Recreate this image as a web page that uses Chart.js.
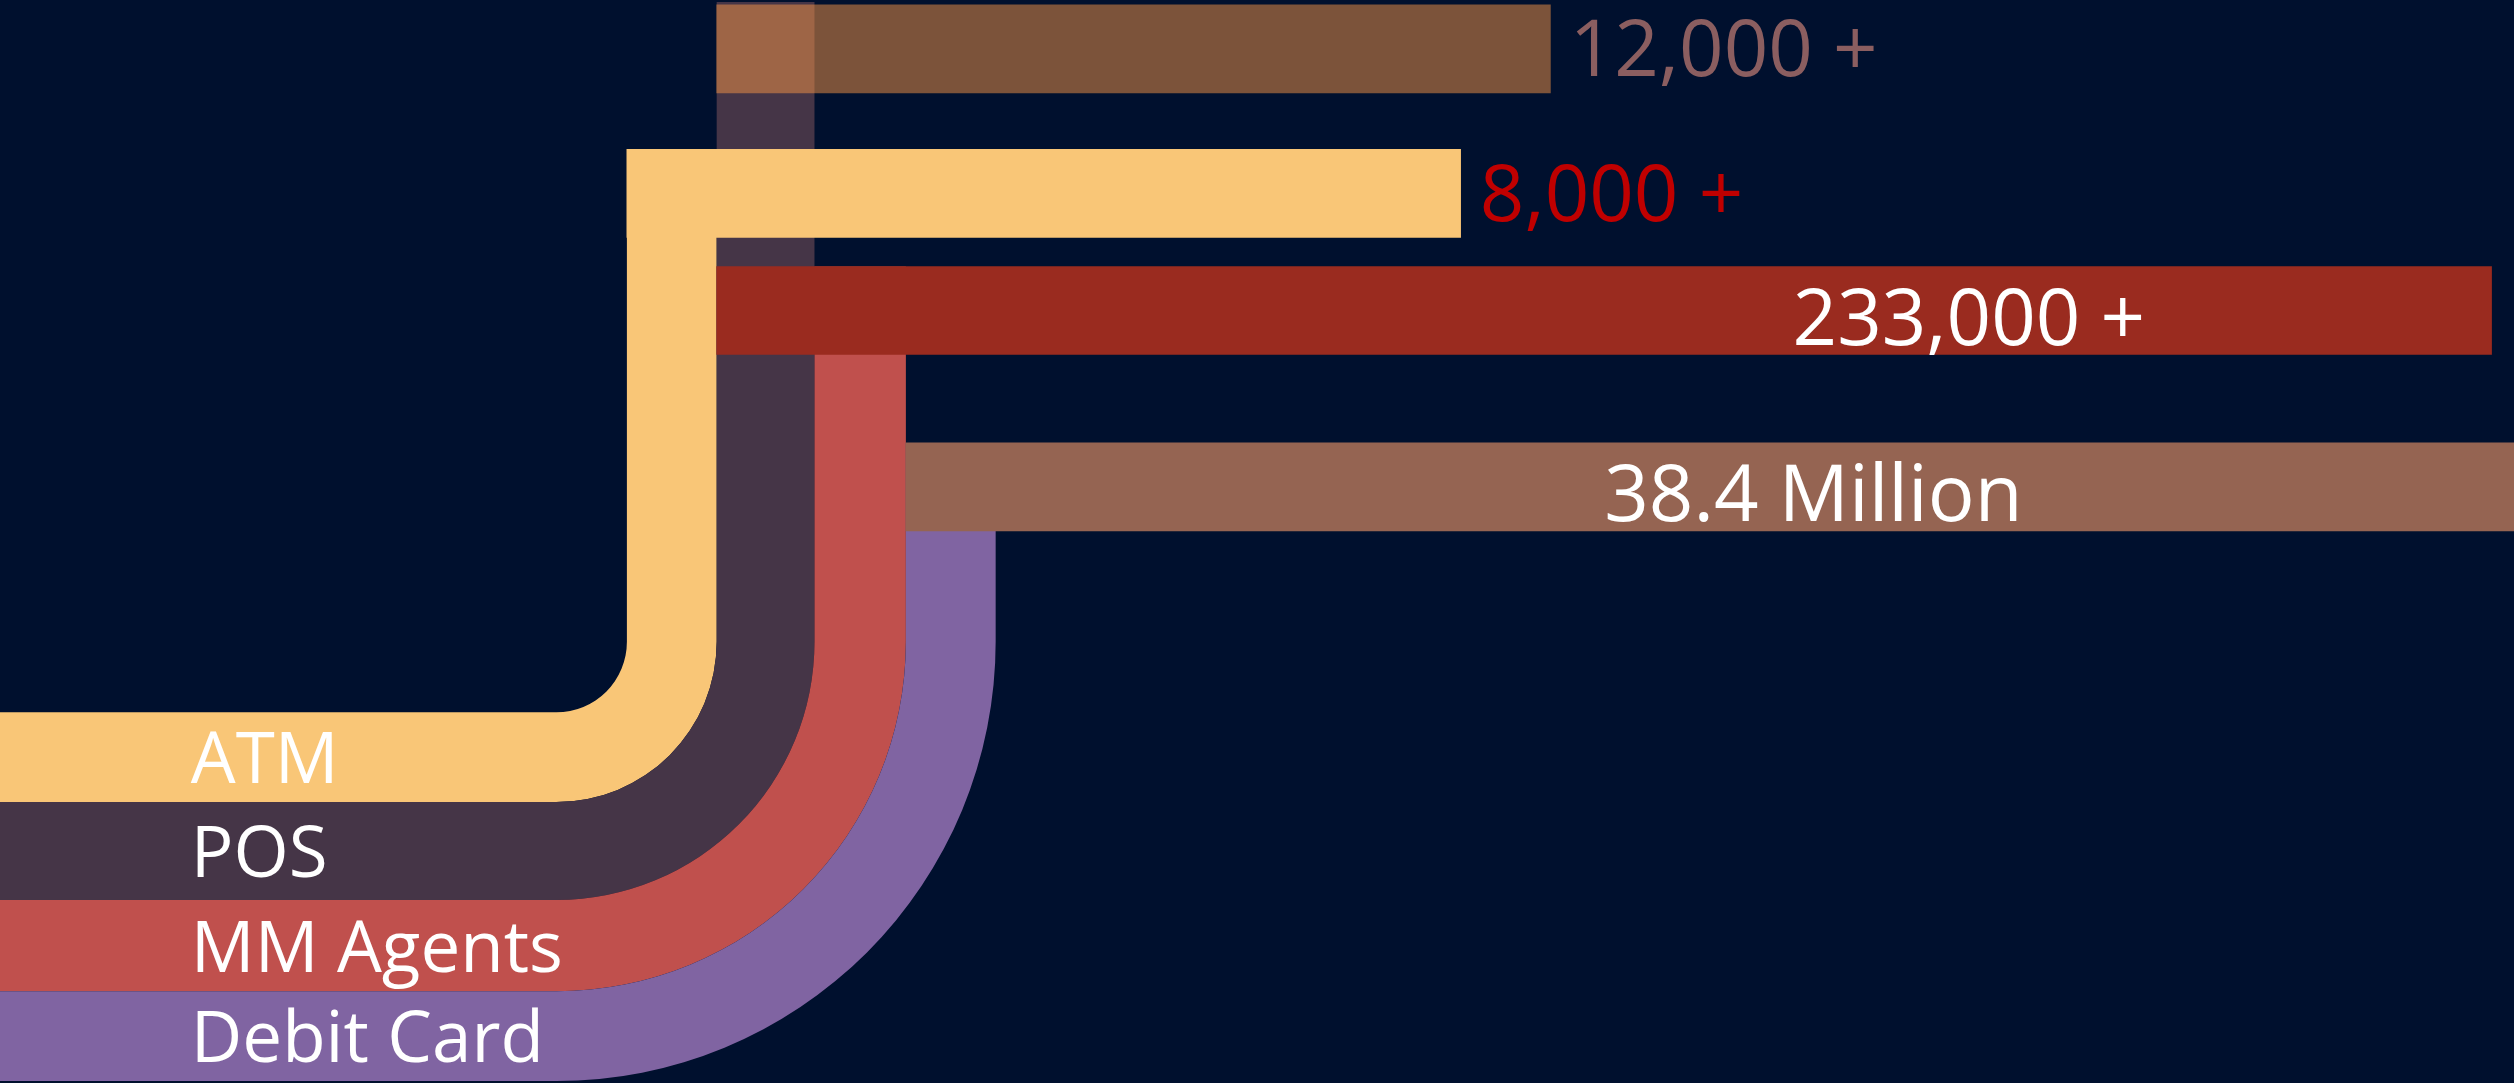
<!DOCTYPE html>
<html>
<head>
<meta charset="utf-8">
<script src="https://cdn.jsdelivr.net/npm/chart.js@4.4.1/dist/chart.umd.min.js"></script>
<style>
  html, body { margin: 0; padding: 0; background: #00102e; overflow: hidden; }
  #wrap { width: 2514px; height: 1083px; position: relative; }
</style>
</head>
<body>
<div id="wrap"><canvas id="channels-chart"></canvas></div>
<script>
// channels and what each one reached
const categories = ['ATM', 'POS', 'MM Agents', 'Debit Card'];
const valueLabels = ['8,000 +', '12,000 +', '233,000 +', '38.4 Million'];

// bars, in the chart's own units (x 0..1568, y 0..675 from the top)
const barRows = [120.5, 30.5, 193.5, 303.5];
const barStarts = [391, 447, 447, 565];
const barEnds = [911, 967, 1554, 1620];

const ribbonColors = ['#f9c677', '#453547', '#c0504d', '#8064a2'];
const barColors = ['#f9c677', 'rgba(247, 150, 70, 0.5)', '#9a2b1f', '#956452'];
const valueColors = ['#c00000', '#8b5e60', '#ffffff', '#ffffff'];

// ribbon lanes and the bend they share
const laneEdges = [391, 447, 508, 565, 621];
const bend = { x: 347, y: 400 };
const insideLabelX = [null, null, 1228, 1131];

const FONT = '"Open Sans", "Noto Sans", sans-serif';

const ctx = document.getElementById('channels-chart');

const ribbons = {
  id: 'ribbons',
  beforeDatasetsDraw(chart) {
    const { ctx, scales: { x, y } } = chart;
    const cx = x.getPixelForValue(bend.x);
    const cy = y.getPixelForValue(bend.y);
    const left = x.getPixelForValue(0);
    const half = 44;
    ctx.save();
    categories.forEach((c, i) => {
      const rIn = x.getPixelForValue(laneEdges[i]) - cx;
      const rOut = x.getPixelForValue(laneEdges[i + 1]) - cx;
      const top = y.getPixelForValue(barRows[i]) - half - (i === 1 ? 3 : 0);
      ctx.beginPath();
      ctx.moveTo(cx + rIn, top);
      ctx.lineTo(cx + rOut, top);
      ctx.lineTo(cx + rOut, cy);
      ctx.arc(cx, cy, rOut, 0, Math.PI / 2);
      ctx.lineTo(left, cy + rOut);
      ctx.lineTo(left, cy + rIn);
      ctx.lineTo(cx, cy + rIn);
      ctx.arc(cx, cy, rIn, Math.PI / 2, 0, true);
      ctx.closePath();
      ctx.fillStyle = ribbonColors[i];
      ctx.fill();
    });
    ctx.restore();
  },
  afterDatasetsDraw(chart) {
    const { ctx, scales: { x, y } } = chart;
    const cx = x.getPixelForValue(bend.x);
    const cy = y.getPixelForValue(bend.y);
    ctx.save();
    ctx.textBaseline = 'middle';

    // channel names along the bottom bands
    ctx.font = `400 71px ${FONT}`;
    ctx.fillStyle = '#ffffff';
    ctx.textAlign = 'left';
    categories.forEach((c, i) => {
      const rIn = x.getPixelForValue(laneEdges[i]) - cx;
      const rOut = x.getPixelForValue(laneEdges[i + 1]) - cx;
      ctx.fillText(c, x.getPixelForValue(119), cy + (rIn + rOut) / 2 + 6);
    });

    // value labels on the bars
    ctx.font = `400 78px ${FONT}`;
    valueLabels.forEach((v, i) => {
      ctx.fillStyle = valueColors[i];
      if (insideLabelX[i] == null) {
        ctx.textAlign = 'left';
        ctx.fillText(v, x.getPixelForValue(barEnds[i] + 12), y.getPixelForValue(barRows[i]) + 5);
      } else {
        ctx.textAlign = 'center';
        ctx.fillText(v, x.getPixelForValue(insideLabelX[i]), y.getPixelForValue(barRows[i]) + 12);
      }
    });
    ctx.restore();
  }
};

new Chart(ctx, {
  type: 'bar',
  data: {
    labels: categories,
    datasets: [{
      data: categories.map((c, i) => ({ x: [barStarts[i], barEnds[i]], y: barRows[i] })),
      backgroundColor: barColors,
      borderWidth: 0,
      borderSkipped: false,
      barThickness: 88
    }]
  },
  options: {
    indexAxis: 'y',
    responsive: true,
    maintainAspectRatio: false,
    animation: false,
    layout: { padding: 0 },
    scales: {
      x: { type: 'linear', min: 0, max: 1568, display: false },
      y: { type: 'linear', min: 0, max: 675, reverse: true, offset: false, display: false }
    },
    plugins: {
      legend: { display: false },
      tooltip: { enabled: false }
    }
  },
  plugins: [ribbons]
});
</script>
</body>
</html>
